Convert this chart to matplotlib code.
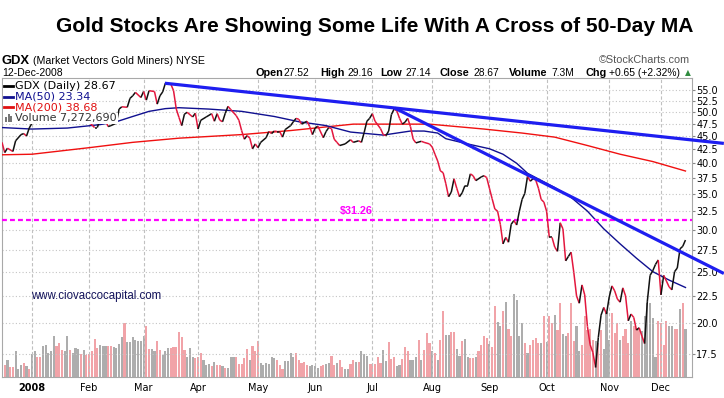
import matplotlib
matplotlib.use("Agg")
import matplotlib.pyplot as plt
import numpy as np
from matplotlib.collections import LineCollection
from matplotlib.patches import Rectangle
from matplotlib.lines import Line2D
import matplotlib.ticker as mticker

# ---------------- data (x = trading-day offset from 2-Jan-2008) ----------------
price_day = [-11, -10, -9, -7, -6, -4, -3, -2, -1, 0, 2, 4, 6, 8, 10, 12, 14, 16, 18, 20,
             21, 23, 24, 25, 27, 28, 29, 31, 32, 33, 35, 36, 37, 38, 40, 41, 42, 43, 45, 46,
             47, 48, 49, 51, 52, 53, 54, 55, 56, 57, 59, 60, 61, 62, 64, 66, 67, 68, 69, 70,
             71, 72, 73, 75, 76, 77, 78, 79, 80, 81, 82, 83, 84, 86, 87, 88, 89, 90, 91, 92,
             93, 95, 96, 97, 98, 99, 101, 102, 103, 104, 105, 107, 108, 109, 110, 111, 112, 113, 115, 117,
             118, 120, 121, 122, 123, 124, 125, 126, 128, 129, 130, 131, 132, 133, 134, 135, 136, 137, 138, 139,
             140, 141, 143, 144, 146, 147, 148, 149, 150, 151, 152, 153, 154, 155, 156, 157, 158, 159, 160, 161,
             162, 163, 165, 166, 167, 168, 169, 170, 171, 172, 173, 174, 175, 176, 177, 178, 179, 180, 181, 182,
             183, 184, 185, 186, 187, 188, 189, 190, 191, 192, 193, 194, 195, 196, 197, 198, 199, 200, 201, 202,
             203, 204, 205, 206, 207, 208, 209, 210, 211, 212, 213, 214, 215, 216, 217, 218, 219, 220, 221, 222,
             223, 224, 225, 226, 227, 228, 229, 230, 231, 232, 233, 234, 235, 236, 237, 238, 239, 240]
price_close = [43.8, 41.9, 42.7, 42.1, 44.1, 45.3, 45.5, 45.0, 46.6, 47.6, 48.6, 47.9, 49.6, 50.6, 49.1, 47.6, 48.9, 50.3, 51.0, 50.4,
               47.8, 46.7, 46.7, 48.4, 48.1, 46.9, 47.1, 47.6, 50.6, 51.1, 51.0, 53.0, 53.6, 54.4, 53.2, 54.6, 52.6, 54.8, 54.6, 51.7,
               53.6, 54.5, 56.6, 56.4, 54.8, 50.6, 48.8, 47.1, 49.5, 49.9, 48.9, 49.7, 46.4, 48.2, 48.9, 49.6, 48.0, 49.6, 48.2, 47.9,
               49.7, 51.2, 50.5, 49.2, 48.2, 46.1, 44.4, 45.1, 44.6, 42.6, 43.5, 42.8, 43.8, 44.7, 45.9, 45.5, 46.0, 45.9, 45.9, 44.8,
               46.3, 47.1, 47.9, 48.6, 48.4, 47.4, 48.0, 46.9, 45.3, 46.6, 47.0, 44.7, 45.9, 46.7, 46.5, 44.4, 43.8, 43.2, 43.5, 44.3,
               43.8, 44.1, 43.8, 45.7, 48.0, 48.6, 49.6, 48.0, 46.5, 45.3, 45.1, 46.0, 49.4, 50.6, 50.2, 48.6, 47.4, 47.8, 48.6, 46.9,
               44.4, 43.7, 44.0, 43.8, 43.5, 42.9, 41.6, 40.4, 38.7, 38.4, 36.6, 34.6, 35.3, 37.4, 35.9, 34.6, 35.2, 36.3, 36.3, 38.2,
               37.9, 37.1, 37.7, 37.9, 37.6, 35.9, 34.3, 32.8, 32.5, 30.7, 28.2, 29.0, 28.4, 30.7, 31.2, 30.6, 32.5, 34.2, 35.1, 37.8,
               37.0, 37.4, 37.2, 35.9, 34.2, 33.8, 32.5, 29.0, 29.0, 27.8, 27.3, 30.9, 30.1, 26.2, 26.7, 27.2, 24.9, 22.5, 21.8, 23.6,
               22.6, 19.7, 18.2, 17.6, 16.5, 18.8, 20.7, 21.4, 20.8, 22.4, 23.5, 23.0, 22.2, 21.9, 23.3, 22.5, 20.2, 20.8, 20.5, 19.4,
               19.6, 18.9, 18.3, 22.0, 24.6, 25.1, 25.8, 26.3, 22.6, 24.6, 24.0, 23.4, 23.1, 25.0, 25.4, 27.6, 27.9, 28.67]

ma50_day = [-11, 0, 13, 25, 31, 37, 43, 49, 54, 65, 77, 89, 98, 108, 117, 129, 139, 144, 149, 152,
            160, 168, 173, 178, 182, 192, 198, 204, 210, 216, 222, 228, 234, 240]
ma50 = [46.7, 46.4, 46.6, 47.3, 47.9, 49.0, 50.1, 50.7, 50.9, 50.6, 50.1, 49.0, 47.9, 47.1, 45.8, 45.2, 46.0, 46.0, 45.6, 44.5,
        43.5, 42.6, 41.6, 40.0, 38.3, 36.0, 34.5, 32.5, 30.1, 28.2, 26.5, 25.0, 24.1, 23.34]

ma200_day = [-11, 0, 21, 37, 54, 77, 95, 118, 129, 146, 166, 180, 192, 204, 216, 228, 240]
ma200 = [41.5, 41.6, 42.8, 43.8, 44.6, 45.3, 46.1, 47.4, 47.4, 47.4, 46.4, 45.6, 44.8, 43.2, 41.6, 40.3, 38.68]

# daily volume (millions) from 14-Dec-2007 to 12-Dec-2008, and bar direction (u = up day, d = down day)
first_vol_day = -11
volume = [2.64, 1.88, 2.54, 1.52, 1.47, 3.91, 1.27, 1.88, 2.13, 1.63, 1.27, 3.56, 4.01, 3.00, 3.05, 4.78, 4.93, 3.66, 3.91, 6.30,
          4.78, 5.18, 4.17, 3.91, 6.30, 4.17, 3.66, 4.42, 4.32, 3.51, 4.17, 3.40, 3.56, 3.91, 5.79, 4.42, 4.88, 4.78, 4.67, 4.78,
          4.67, 4.57, 4.42, 5.08, 6.10, 8.23, 5.28, 5.28, 6.10, 5.69, 5.54, 5.54, 6.20, 7.82, 4.32, 4.32, 3.91, 5.44, 4.17, 3.40,
          3.91, 4.42, 4.42, 4.57, 4.57, 6.81, 6.10, 4.17, 3.05, 4.42, 3.05, 2.90, 3.05, 3.66, 2.64, 1.88, 1.98, 1.63, 2.29, 1.88,
          1.78, 1.63, 1.37, 1.37, 3.05, 3.05, 3.05, 2.03, 2.03, 2.90, 4.32, 2.54, 4.78, 4.01, 5.54, 2.13, 1.88, 2.13, 2.03, 3.05,
          2.90, 2.64, 1.88, 1.27, 2.39, 2.49, 3.66, 3.05, 3.66, 2.64, 2.13, 2.24, 1.88, 1.63, 1.88, 1.63, 1.37, 1.73, 1.78, 2.03,
          2.13, 3.25, 1.88, 2.13, 2.54, 1.52, 1.27, 1.22, 2.03, 2.64, 2.24,
          2.29, 4.01, 3.51, 3.25, 1.98, 1.98, 1.98, 3.05, 2.13, 4.17, 2.39, 5.28, 2.74, 3.05, 1.63, 1.78, 2.74, 4.57, 3.91, 2.64,
          2.54, 3.05, 5.59, 2.54, 4.06, 6.71, 5.18, 3.91, 3.66, 2.64, 5.59, 10.0, 6.45, 6.45, 6.81, 6.81, 4.32, 3.25, 5.44, 5.84,
          3.00, 2.90, 2.90, 3.05, 3.91, 4.93, 6.30, 5.94, 5.08, 4.52, 10.87, 8.33, 7.72, 10.0, 11.38, 7.32, 6.30, 12.7, 11.79, 6.30,
          8.23, 5.18, 3.66, 4.93, 5.59, 5.94, 5.18, 5.18, 9.25, 5.28, 9.35, 8.23, 9.50, 7.21, 11.28, 6.60, 6.30, 6.71, 11.28, 5.44,
          7.72, 4.01, 4.93, 9.25, 7.21, 7.32, 5.69, 5.44, 5.18, 7.11, 4.32, 9.86, 5.69, 9.75, 6.71, 8.23, 5.69, 6.30, 7.32, 5.18,
          8.48, 7.82, 7.47, 7.32, 6.96, 9.25, 11.28, 11.28, 8.99, 3.00, 8.48, 8.23, 4.93, 8.48, 7.72, 7.82, 7.32, 7.32, 10.36, 11.28,
          7.27]
vol_dir = ("ddudduuudud"
           "uudduuuuud" "dduuduuudu" "ddddduuudd" "uuuuduuuuu" "uudduudduu" "udddddduuu"
           "ddduuududd" "uduuuddddd" "uddduuuuuu" "ddduuuuddd" "dduuuudduu" "ddudduuddu"
           "duuudddddu" "uddduudddu" "uududddudu" "dduudduudu" "udduddddud" "duududduuu"
           "ududdddudu" "ddudduuddd" "uudddddudd" "uuuddduddd" "uddduuuuuu" "dddduuddud"
           "u")

# month ticks (trading-day offsets of first session of each month)
month_day = [0, 21, 41, 61, 83, 104, 125, 147, 168, 189, 212, 231]
month_lbl = ["2008", "Feb", "Mar", "Apr", "May", "Jun", "Jul", "Aug", "Sep", "Oct", "Nov", "Dec"]
price_ticks = [17.5, 20.0, 22.5, 25.0, 27.5, 30.0, 32.5, 35.0, 37.5, 40.0, 42.5, 45.0, 47.5, 50.0, 52.5, 55.0]

# hand-drawn trend lines (start, end)
trend1_day = [48.8, 254.1]
trend1_price = [56.6, 43.6]
trend2_day = [133.3, 254.1]
trend2_price = [50.8, 24.8]
level_price = 31.26

# ------------------------------------------------------------------
W, H = 724, 398
fig = plt.figure(figsize=(W / 100, H / 100), dpi=100)
fig.patch.set_facecolor("white")


def fx(x):
    return x / W


def fy(y):
    return 1 - y / H


rect = [fx(2), fy(377), fx(692) - fx(2), fy(78) - fy(377)]
vax = fig.add_axes(rect)
ax = fig.add_axes(rect, sharex=vax)
ax.patch.set_alpha(0)

# --- volume bars
n = len(volume)
dirs = (vol_dir + "u" * n)[:n]
vx = np.arange(n) + first_vol_day
vcols = ["#ADADAD" if d == "u" else "#F1A3A8" for d in dirs]
vax.bar(vx, volume, width=0.78, color=vcols, linewidth=0)
vax.set_ylim(0, 45.6)
vax.axis("off")

# --- price axes
ax.set_yscale("log")
ax.set_ylim(15.83, 57.9)
ax.set_xlim(-11.0, 242.4)
ax.yaxis.set_major_locator(mticker.FixedLocator(price_ticks))
ax.yaxis.set_minor_locator(mticker.NullLocator())
ax.yaxis.set_major_formatter(mticker.FuncFormatter(lambda v, p: f"{v:.1f}"))
ax.yaxis.tick_right()
ax.set_xticks(month_day)
ax.set_xticklabels(month_lbl)
for t in ax.get_xticklabels():
    t.set_fontfamily("DejaVu Sans")
ax.get_xticklabels()[0].set_fontweight("bold")
ax.tick_params(axis="y", length=2, pad=1, labelsize=7, color="#888888")
ax.tick_params(axis="x", length=0, pad=4, labelsize=7)
ax.grid(axis="y", color="#C4C4C4", ls=(0, (1, 2)), lw=0.8)
ax.grid(axis="x", color="#C0C0C0", ls=(0, (3, 2)), lw=0.8)
for s in ax.spines.values():
    s.set_color("#A8A8A8")
    s.set_linewidth(0.8)

# moving averages
ax.plot(ma200_day, ma200, color="#F01010", lw=1.0, zorder=3)
ax.plot(ma50_day, ma50, color="#101090", lw=1.0, zorder=3)

# price line (black up, red down)
pts = np.column_stack([price_day, price_close])
segs = np.stack([pts[:-1], pts[1:]], axis=1)
cols = ["#111111" if b >= a else "#E3173E" for a, b in zip(price_close[:-1], price_close[1:])]
ax.add_collection(LineCollection(segs, colors=cols, linewidths=1.1, zorder=4))

# support level
ax.axhline(level_price, color="#FF00FF", ls=(0, (2.2, 1.4)), lw=1.6, zorder=3)
ax.text(113.2, 32.05, f"${level_price:.2f}", color="#FF00FF", fontsize=7.8, fontweight="bold",
        family="Liberation Sans", ha="left", va="baseline", zorder=5)

# trend lines
ax.plot(trend1_day, trend1_price, color="#1E1EF0", lw=2.3, zorder=5, clip_on=False, solid_capstyle="butt")
ax.plot(trend2_day, trend2_price, color="#1E1EF0", lw=2.3, zorder=5, clip_on=False, solid_capstyle="butt")

# watermark
fig.text(fx(30.7), fy(298.5), "www.ciovaccocapital.com", fontsize=8.3, family="Liberation Sans",
         color="#12125A", ha="left", va="baseline")

# ---------------- headers ----------------
fig.text(fx(375), fy(32.3), "Gold Stocks Are Showing Some Life With A Cross of 50-Day MA",
         ha="center", va="baseline", fontsize=15.1, fontweight="bold", family="Liberation Sans")
fig.text(fx(2), fy(63.5), "GDX", ha="left", va="baseline", fontsize=9.4, fontweight="bold", family="Liberation Sans")
fig.text(fx(33), fy(63.5), "(Market Vectors Gold Miners) NYSE", ha="left", va="baseline", fontsize=7.7,
         family="Liberation Sans")
fig.text(fx(2), fy(75.5), "12-Dec-2008", ha="left", va="baseline", fontsize=7.5, family="Liberation Sans")
fig.text(fx(690), fy(63), "\u00a9StockCharts.com", ha="right", va="baseline", fontsize=7.8,
         family="Liberation Sans", color="#555555")
hdr = [("Open", 255, True), ("27.52", 283, False), ("High", 320, True), ("29.16", 348, False),
       ("Low", 380, True), ("27.14", 405, False), ("Close", 440, True), ("28.67", 473, False),
       ("Volume", 509, True), ("7.3M", 551, False), ("Chg", 585, True), ("+0.65 (+2.32%)", 609, False)]
for s, x, b in hdr:
    fig.text(fx(x), fy(75.5), s, ha="left", va="baseline", fontsize=7.8 if b else 7.4,
             fontweight="bold" if b else "normal", family="Liberation Sans")
fig.text(fx(685), fy(75.0), "\u25b2", ha="left", va="baseline", fontsize=5.5, color="#2E8B3E",
         family="DejaVu Sans")

# ---------------- legend rows (white backed) ----------------
rows = [("GDX (Daily) 28.67", "#000000", 86.0),
        ("MA(50) 23.34", "#101090", 96.7),
        ("MA(200) 38.68", "#E01010", 107.4),
        ("Volume 7,272,690", "#333333", 118.3)]
renderer = fig.canvas.get_renderer()
for i, (txt, col, yc) in enumerate(rows):
    t = fig.text(fx(15), fy(yc), txt, ha="left", va="center", fontsize=8, family="DejaVu Sans",
                 color=col, zorder=6)
    bb = t.get_window_extent(renderer)
    x1 = bb.x1 + 1
    fig.add_artist(Rectangle((fx(3), fy(yc + 5.4)), fx(x1) - fx(3), fy(yc - 5.4) - fy(yc + 5.4),
                             transform=fig.transFigure, facecolor="white", edgecolor="none", zorder=5))
    if i < 3:
        fig.add_artist(Line2D([fx(4), fx(12.5)], [fy(yc), fy(yc)], transform=fig.transFigure,
                              color=col, lw=2.0, zorder=6))
    else:
        for (bx, bh) in [(5, 5), (7.5, 8), (10, 6)]:
            fig.add_artist(Rectangle((fx(bx), fy(yc + 4)), fx(2), bh / H, transform=fig.transFigure,
                                     facecolor="#777777", edgecolor="none", zorder=6))

fig.savefig("out.png", dpi=100, facecolor="white")
